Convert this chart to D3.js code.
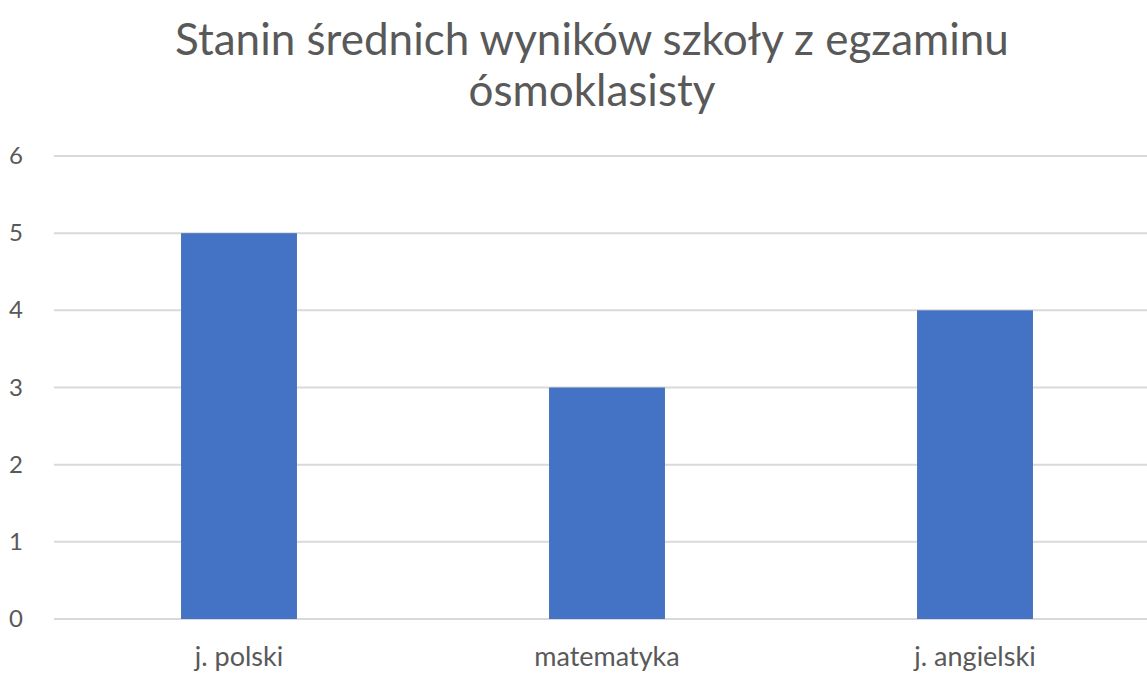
<!DOCTYPE html>
<html>
<head>
<meta charset="utf-8">
<script src="https://cdn.jsdelivr.net/npm/d3@7"></script>
<style>
  body { margin: 0; background: #fff; overflow: hidden; }
  svg { display: block; }
  text { font-family: Lato, "Open Sans", sans-serif; fill: #595959; }
</style>
</head>
<body>
<script>
var w = 1147;
var h = 673;

var categories = ["j. polski", "matematyka", "j. angielski"];
var values = [5, 3, 4];
var yTicks = [0, 1, 2, 3, 4, 5, 6];
var titleLines = ["Stanin średnich wyników szkoły z egzaminu", "ósmoklasisty"];

var svg = d3.select("body").append("svg")
    .attr("width", w)
    .attr("height", h);

var x = d3.scaleBand()
    .domain(categories)
    .range([55, 1159])
    .paddingInner(0.685)
    .paddingOuter(0.3425);

var y = d3.scaleLinear()
    .domain([0, 6])
    .range([619, 156]);

// gridlines
svg.append("g")
    .selectAll("line")
    .data(yTicks)
    .enter().append("line")
    .attr("x1", 54)
    .attr("x2", w)
    .attr("y1", function(d) { return y(d); })
    .attr("y2", function(d) { return y(d); })
    .attr("stroke", "#d9d9d9")
    .attr("stroke-width", 2);

// y labels
svg.append("g")
    .selectAll("text")
    .data(yTicks)
    .enter().append("text")
    .attr("x", 16)
    .attr("y", function(d) { return y(d) + 8; })
    .attr("text-anchor", "middle")
    .style("font-size", "24px")
    .text(function(d) { return d; });

// bars
svg.append("g")
    .selectAll("rect")
    .data(values)
    .enter().append("rect")
    .attr("x", function(d, i) { return x(categories[i]); })
    .attr("width", x.bandwidth())
    .attr("y", function(d) { return y(d); })
    .attr("height", function(d) { return y(0) - y(d); })
    .attr("fill", "#4472c4");

// x labels
svg.append("g")
    .selectAll("text")
    .data(categories)
    .enter().append("text")
    .attr("x", function(d) { return x(d) + x.bandwidth() / 2; })
    .attr("y", 666)
    .attr("text-anchor", "middle")
    .style("font-size", "27px")
    .text(function(d) { return d; });

// title
svg.append("g")
    .selectAll("text")
    .data(titleLines)
    .enter().append("text")
    .attr("x", 592)
    .attr("y", function(d, i) { return 55 + i * 51; })
    .attr("text-anchor", "middle")
    .style("font-size", "44px")
    .text(function(d) { return d; });
</script>
</body>
</html>
